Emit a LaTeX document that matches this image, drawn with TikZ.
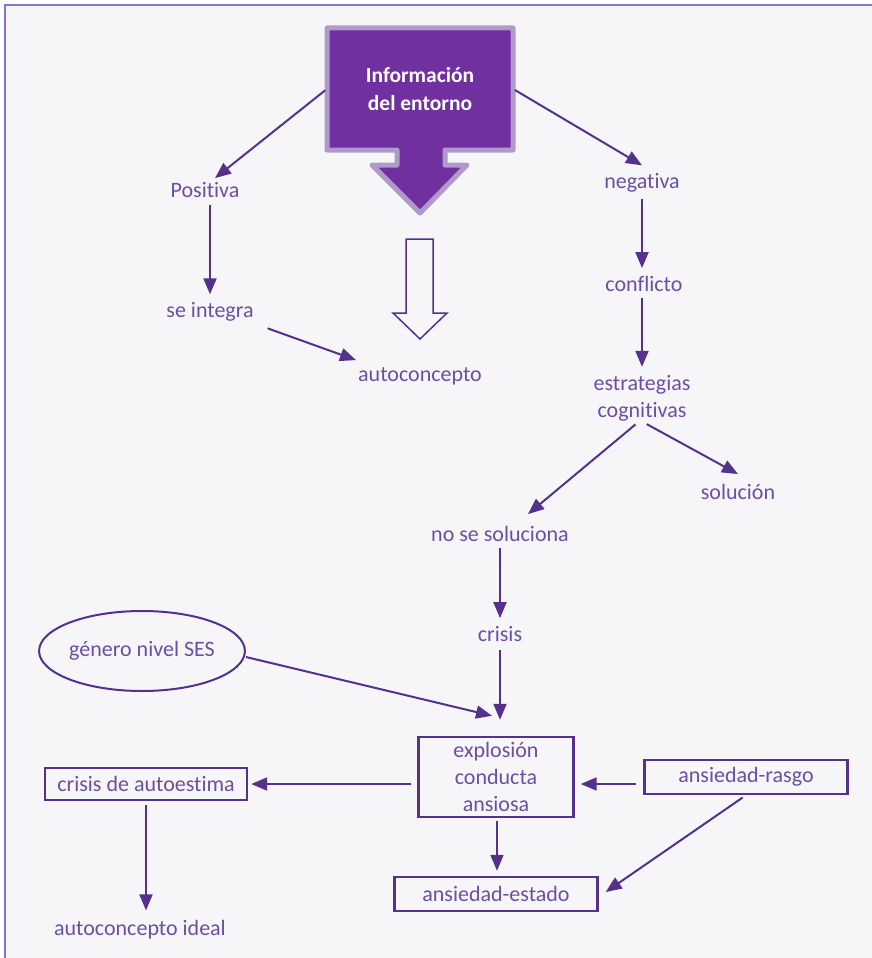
\documentclass[tikz,border=0pt]{standalone}
\usepackage{fontspec}
\setmainfont{Carlito}[Ligatures={NoCommon,NoContextual}]
\usetikzlibrary{arrows.meta,shapes.geometric}

\definecolor{linepurple}{HTML}{55308D}
\definecolor{textpurple}{HTML}{6C4EA3}
\definecolor{headfill}{HTML}{7030A0}
\definecolor{headrim}{HTML}{B09ACB}
\definecolor{framepurple}{HTML}{8E72BC}
\definecolor{paper}{HTML}{F6F6F9}

\tikzset{
	lbl/.style={text=textpurple,font=\fontsize{22}{27}\selectfont,align=center,inner sep=2pt},
	box/.style={lbl,draw=linepurple,line width=2.4pt,inner sep=0pt},
	arr/.style={draw=linepurple,line width=2pt,-{Triangle[length=16pt,width=13pt]}}
}

\begin{document}
\begin{tikzpicture}[x=1pt,y=-1pt]
		\useasboundingbox (0,0) rectangle (872,958);
%		frame and paper
		\fill[paper] (5,5) rectangle (872,958);
		\draw[framepurple,line width=2pt] (5,958) -- (5,5) -- (872,5);

%		big header arrow
		\filldraw[fill=headfill,draw=headrim,line width=5pt,line join=round]
			(327,28) -- (513,28) -- (513,150) -- (445,150) -- (445,165) -- (467,165)
			-- (420,213) -- (372,165) -- (397,165) -- (397,150) -- (327,150) -- cycle;
		\node[minimum width=186pt,minimum height=122pt,inner sep=0pt] (info) at (420,89) {};
		\node[text=white,font=\fontsize{21.5}{28}\selectfont\bfseries,align=center] at (420,89) {Informaci\'on\\del entorno};

%		hollow arrow
		\draw[linepurple,line width=1.5pt] (406,239) -- (433,239) -- (433,313) -- (447,313)
			-- (420,339) -- (393,313) -- (406,313) -- cycle;

		\node[lbl] (pos) at (205,190) {Positiva};
		\node[lbl] (neg) at (642,183) {negativa};
		\node[lbl] (integ) at (210,312) {se integra};
		\node[lbl] (auto) at (420,376) {autoconcepto};
		\node[lbl] (confl) at (644,284) {conflicto};
		\node[lbl] (estr) at (642,398) {estrategias\\cognitivas};
		\node[lbl] (sol) at (738,492) {soluci\'on};
		\node[lbl] (noso) at (500,534) {no se soluciona};
		\node[lbl] (crisis) at (500,634) {crisis};
		\node[lbl,ellipse,draw=linepurple,line width=2pt,minimum width=200pt,minimum height=80pt,inner sep=0pt] (ses) at (142,651) {g\'enero nivel SES};
		\node[box,minimum width=155pt,minimum height=80pt] (expl) at (496,777) {explosi\'on\\conducta\\ansiosa};
		\node[box,minimum width=203pt,minimum height=34pt] (rasgo) at (746,777) {ansiedad-rasgo};
		\node[box,minimum width=203pt,minimum height=34pt] (estado) at (496,894) {ansiedad-estado};
		\node[box,minimum width=202pt,minimum height=32pt] (autoest) at (146,784) {crisis de autoestima};
		\node[lbl] (ideal) at (140,930) {autoconcepto ideal};

		\draw[arr,shorten <=2pt] (info.west) -- ([xshift=10pt,yshift=2pt]pos.north);
		\draw[arr,shorten <=2pt] (info.east) -- ([yshift=6pt]neg.north);
		\draw[arr,shorten <=5pt,shorten >=6pt] ([xshift=5pt]pos.south) -- (integ.north);
		\draw[arr,shorten <=2pt] ([xshift=10pt,yshift=-4pt]integ.south east) -- ([yshift=5pt]auto.north west);
		\draw[arr,shorten <=4pt,shorten >=6pt] (neg.south) -- ([xshift=-2pt]confl.north);
		\draw[arr,shorten <=4pt,shorten >=6pt] ([xshift=-2pt]confl.south) -- (estr.north);
		\draw[arr,shorten <=2pt] ([xshift=3pt]estr.south) -- ([yshift=8pt]sol.north);
		\draw[arr,shorten <=2pt] ([xshift=-5pt]estr.south) -- ([xshift=28pt,yshift=10pt]noso.north);
		\draw[arr,shorten <=4pt,shorten >=6pt] (noso.south) -- (crisis.north);
		\draw[arr,shorten <=6pt,shorten >=16pt] (crisis.south) -- ([xshift=4pt]expl.north);
		\draw[arr] ([yshift=-6pt]ses.east) -- ([xshift=-4pt,yshift=20pt]expl.north);
		\draw[arr,shorten <=7pt,shorten >=6pt] ([yshift=-7pt]rasgo.west) -- ([yshift=-7pt]expl.east);
		\draw[arr,shorten <=4pt] (rasgo.south) -- ([xshift=7pt,yshift=2pt]estado.east);
		\draw[arr,shorten <=3pt,shorten >=5pt] ([xshift=1pt]expl.south) -- ([xshift=1pt]estado.north);
		\draw[arr,shorten <=6pt,shorten >=3pt] ([yshift=-7pt]expl.west) -- (autoest.east);
		\draw[arr,shorten <=4pt,shorten >=8pt] (autoest.south) -- ([xshift=6pt]ideal.north);
	\end{tikzpicture}
\end{document}
